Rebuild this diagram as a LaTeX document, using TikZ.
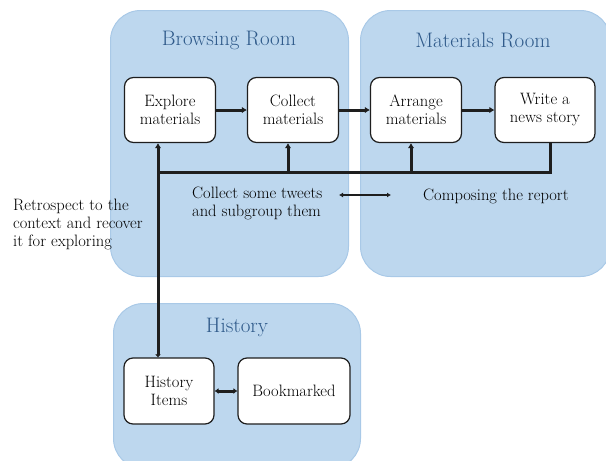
\documentclass[tikz,border=0pt]{standalone}
\usetikzlibrary{arrows.meta}
\definecolor{panelfill}{HTML}{BDD7EE}
\definecolor{panelline}{HTML}{A9C9E7}
\definecolor{titleblue}{HTML}{2F5A8A}
\definecolor{ink}{HTML}{1E1E1E}
\begin{document}
\begin{tikzpicture}[x=1pt,y=-1pt,
  panel/.style={draw=panelline, fill=panelfill, line width=1pt, rounded corners=30pt, anchor=north west, inner sep=0pt},
  box/.style={draw=ink, fill=white, line width=1.2pt, rounded corners=9pt, minimum width=91pt, minimum height=65pt, align=center, inner sep=1pt, text=black, font=\fontsize{16.5}{18}\selectfont},
  title/.style={text=titleblue, font=\fontsize{21}{23}\selectfont},
  lbl/.style={align=left, inner sep=0pt, text=black, font=\fontsize{16.5}{18}\selectfont},
  flow/.style={draw=ink, line width=3pt, -{Latex[length=5pt,width=6.5pt]}},
  bus/.style={draw=ink, line width=3pt},
  dbl/.style={draw=ink, line width=3pt, {Latex[length=4pt,width=6pt]}-{Latex[length=4pt,width=6pt]}},
  thindbl/.style={draw=ink, line width=2pt, {Latex[length=4pt,width=5pt]}-{Latex[length=4pt,width=5pt]}}]
\useasboundingbox (0,0) rectangle (606,461);
% panels
\node[panel, minimum width=238pt, minimum height=266pt] (browse) at (110,10) {};
\node[panel, minimum width=250pt, minimum height=266pt] (mater) at (360,10) {};
\node[panel, minimum width=247pt, minimum height=165pt] (histpanel) at (113,303) {};
% titles
\node[title] (browsetitle) at (229,40) {Browsing Room};
\node[title] (matertitle) at (483,40) {Materials Room};
\node[title] (histtitle) at (237,327) {History};
% boxes
\node[box] (explore) at (170,110) {Explore\\materials};
\node[box] (collect) at (293,110) {Collect\\materials};
\node[box] (arrange) at (416,110) {Arrange\\materials};
\node[box, minimum width=100pt] (write) at (545,110) {Write a\\news story};
\node[box, minimum width=90pt, minimum height=66pt] (hist) at (169,391) {History\\Items};
\node[box, minimum width=112pt, minimum height=66pt] (bookmark) at (294,391) {Bookmarked};
% main flow
\draw[flow] (explore) -- (collect);
\draw[flow] (collect) -- (arrange);
\draw[flow] (arrange) -- (write);
% bus
\coordinate (busL) at (158,172);
\coordinate (busR) at (550,172);
\coordinate (busC) at (288,172);
\coordinate (busA) at (411,172);
\draw[bus] (write.south -| busR) -- (busR) -- (busL);
\draw[flow] (busC) -- (busC |- collect.south);
\draw[flow] (busA) -- (busA |- arrange.south);
\draw[draw=ink, line width=3pt, {Latex[length=3pt,width=6pt]}-{Latex[length=5pt,width=6.5pt]}] (busL |- hist.north) -- (busL |- explore.south);
\draw[dbl] (hist) -- (bookmark);
% labels
\node[lbl, anchor=west] (tweets) at (192,203) {Collect some tweets\\and subgroup them};
\node[lbl, anchor=west] (report) at (423,196) {Composing the report};
\node[lbl, anchor=west] (retro) at (13,224) {Retrospect to the\\context and recover\\it for exploring};
\coordinate (tw1) at (339,195);
\coordinate (tw2) at (391,195);
\draw[thindbl] (tw1) -- (tw2);
\end{tikzpicture}
\end{document}
